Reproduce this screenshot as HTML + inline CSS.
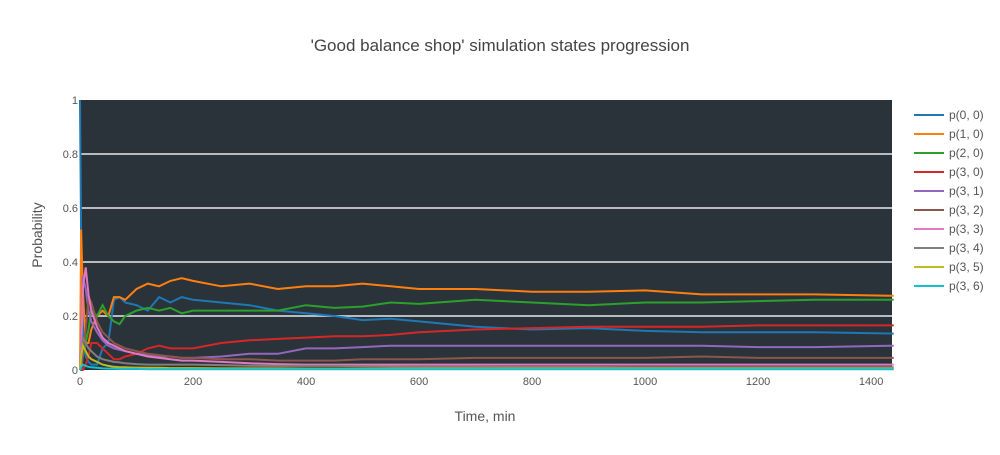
<!DOCTYPE html>
<html><head><meta charset="utf-8"><style>
body{margin:0;background:#fff;}
svg{font-family:"Liberation Sans",sans-serif;}
</style></head><body>
<svg id="chart" width="1000" height="450">
<text x="500" y="51" text-anchor="middle" font-size="17" fill="#444">'Good balance shop' simulation states progression</text>
<rect x="80" y="100" width="812" height="270" fill="#2a3339"/>
<g id="grid"></g><g id="series"></g><g id="axes"></g><g id="legend"></g>
<text x="485" y="421" text-anchor="middle" font-size="14" fill="#555">Time, min</text>
<text transform="translate(42,235) rotate(-90)" text-anchor="middle" font-size="14" fill="#555">Probability</text>
</svg>
<script>
const times=[0,2,5,10,15,20,30,40,50,60,70,80,100,120,140,160,180,200,250,300,350,400,450,500,550,600,700,800,900,1000,1100,1200,1300,1440];
const seriesNames=["p(0, 0)","p(1, 0)","p(2, 0)","p(3, 0)","p(3, 1)","p(3, 2)","p(3, 3)","p(3, 4)","p(3, 5)","p(3, 6)"];
const colors=["#1f77b4","#ff7f0e","#2ca02c","#d62728","#9467bd","#8c564b","#e377c2","#7f7f7f","#bcbd22","#17becf"];
const p00=[1,0.5,0.15,0.05,0.03,0.02,0.02,0.08,0.1,0.26,0.27,0.25,0.24,0.22,0.27,0.25,0.27,0.26,0.25,0.24,0.22,0.21,0.2,0.185,0.19,0.18,0.16,0.15,0.155,0.145,0.14,0.14,0.14,0.135];
const p10=[0,0.52,0.3,0.1,0.1,0.15,0.2,0.22,0.2,0.27,0.27,0.26,0.3,0.32,0.31,0.33,0.34,0.33,0.31,0.32,0.3,0.31,0.31,0.32,0.31,0.3,0.3,0.29,0.29,0.295,0.28,0.28,0.28,0.275];
const p20=[0,0,0.05,0.1,0.15,0.22,0.2,0.24,0.2,0.18,0.17,0.2,0.22,0.23,0.22,0.23,0.21,0.22,0.22,0.22,0.22,0.24,0.23,0.235,0.25,0.245,0.26,0.25,0.24,0.25,0.25,0.255,0.26,0.26];
const p30=[0,0,0,0.02,0.05,0.1,0.1,0.08,0.06,0.04,0.04,0.05,0.06,0.08,0.09,0.08,0.08,0.08,0.1,0.11,0.115,0.12,0.125,0.125,0.13,0.14,0.15,0.155,0.16,0.16,0.16,0.165,0.165,0.165];
const p31=[0,0.1,0.35,0.3,0.22,0.18,0.14,0.11,0.09,0.08,0.075,0.07,0.06,0.055,0.05,0.05,0.045,0.045,0.05,0.06,0.06,0.08,0.08,0.085,0.09,0.09,0.09,0.09,0.09,0.09,0.09,0.085,0.085,0.09];
const p32=[0,0,0.05,0.15,0.27,0.25,0.18,0.14,0.12,0.1,0.09,0.08,0.07,0.06,0.055,0.05,0.045,0.045,0.04,0.04,0.035,0.035,0.035,0.04,0.04,0.04,0.045,0.045,0.045,0.045,0.05,0.045,0.045,0.045];
const p33=[0,0.05,0.3,0.38,0.28,0.22,0.16,0.12,0.1,0.09,0.08,0.07,0.06,0.05,0.045,0.04,0.035,0.035,0.03,0.025,0.022,0.02,0.02,0.02,0.02,0.02,0.02,0.02,0.02,0.02,0.02,0.02,0.02,0.02];
const p34=[0,0.02,0.12,0.1,0.08,0.07,0.05,0.04,0.035,0.03,0.028,0.025,0.022,0.02,0.02,0.02,0.02,0.02,0.018,0.016,0.015,0.015,0.015,0.014,0.013,0.012,0.012,0.011,0.011,0.01,0.01,0.01,0.01,0.01];
const p35=[0,0.05,0.09,0.07,0.05,0.04,0.03,0.02,0.015,0.012,0.01,0.01,0.009,0.008,0.008,0.007,0.007,0.007,0.006,0.006,0.006,0.005,0.005,0.005,0.005,0.005,0.005,0.005,0.005,0.005,0.005,0.005,0.005,0.005];
const p36=[0,0.01,0.02,0.015,0.012,0.01,0.008,0.006,0.005,0.005,0.004,0.004,0.004,0.003,0.003,0.003,0.003,0.003,0.003,0.003,0.003,0.003,0.003,0.003,0.003,0.003,0.003,0.003,0.003,0.003,0.003,0.003,0.003,0.003];
const xTicks=[0,200,400,600,800,1000,1200,1400];
const yTicks=[0,0.2,0.4,0.6,0.8,1];
const yTickLabels=["0","0.2","0.4","0.6","0.8","1"];
const allSeries=[p00,p10,p20,p30,p31,p32,p33,p34,p35,p36];
const NS="http://www.w3.org/2000/svg";
const X0=80,X1=892,Y0=370,Y1=100,TMAX=1437;
const xs=t=>X0+t/TMAX*(X1-X0);
const ys=v=>Y0-v*(Y0-Y1);
function mk(tag,attrs,parent){const e=document.createElementNS(NS,tag);for(const k in attrs)e.setAttribute(k,attrs[k]);parent.appendChild(e);return e;}
const grid=document.getElementById('grid'),axes=document.getElementById('axes'),ser=document.getElementById('series'),leg=document.getElementById('legend');
yTicks.forEach((v,i)=>{
 if(v>0&&v<1){const l=mk('line',{x1:X0,x2:X1,y1:ys(v),y2:ys(v),stroke:'#b8bcc0','stroke-width':2},grid);
 
 }
 const t=mk('text',{x:X0-2,y:ys(v)+4,'text-anchor':'end','font-size':11,fill:'#555'},axes);t.textContent=yTickLabels[i];
 
 
});
xTicks.forEach(v=>{
 const t=mk('text',{x:xs(v),y:Y0+15,'text-anchor':'middle','font-size':11,fill:'#555'},axes);t.textContent=v;
 
 
});
allSeries.forEach((vals,i)=>{
 const d=vals.map((v,j)=>(j?'L':'M')+xs(times[j]).toFixed(1)+','+ys(v).toFixed(1)).join('');
 const p=mk('path',{d:d,fill:'none',stroke:colors[i],'stroke-width':2},ser);
 
 
 const y=115+i*19;
 const g=mk('g',{},leg);
 
 
 mk('line',{x1:914,x2:944,y1:y,y2:y,stroke:colors[i],'stroke-width':2},g);
 const t=mk('text',{x:949,y:y+4,'font-size':12,fill:'#555'},g);t.textContent=seriesNames[i];
});
</script>
</body></html>
